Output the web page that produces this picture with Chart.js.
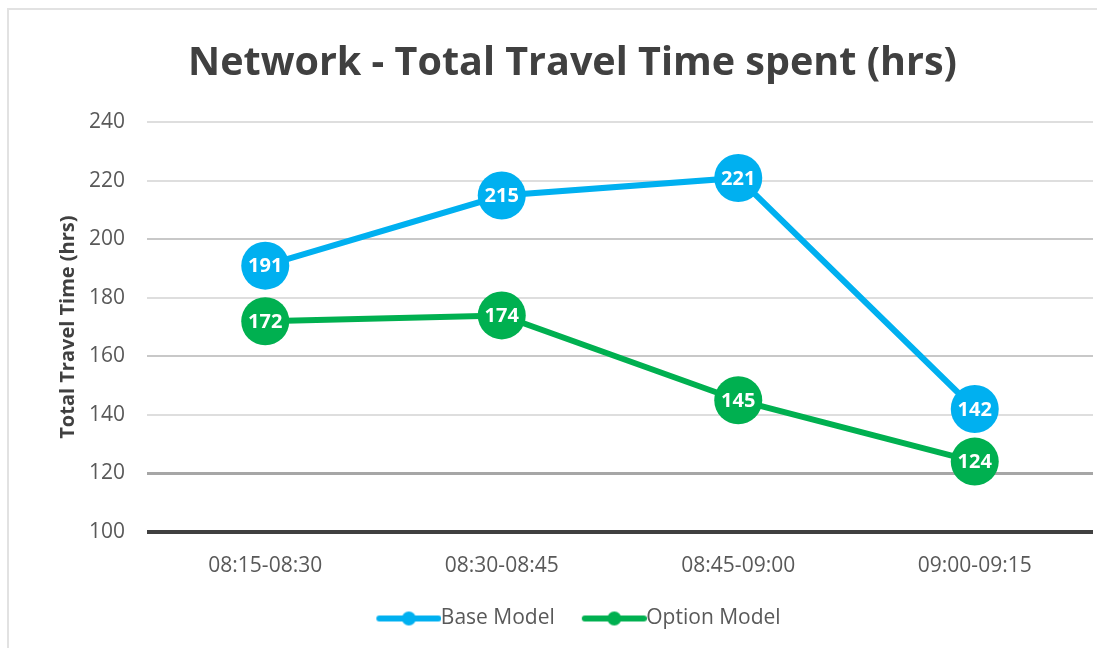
<!DOCTYPE html>
<html>
<head>
<meta charset="utf-8">
<script src="https://cdn.jsdelivr.net/npm/chart.js@4.4.0/dist/chart.umd.min.js"></script>
<style>
  html, body { margin: 0; padding: 0; background: #fff; overflow: hidden; }
  #card { position: absolute; left: 7px; top: 8px; width: 1088px; height: 638px;
          border-left: 2px solid #e2e2e2; border-top: 2px solid #e2e2e2; }
  #wrap { position: absolute; left: 0; top: 0; width: 1097px; height: 648px; }
</style>
</head>
<body>
<div id="card"></div>
<div id="wrap"><canvas id="ttChart"></canvas></div>
<script>
// data
const timeSlots = ["08:15-08:30", "08:30-08:45", "08:45-09:00", "09:00-09:15"];
const baseModel = [191, 215, 221, 142];
const optionModel = [172, 174, 145, 124];

const BLUE = "#00b0f0";
const GREEN = "#00b050";
const FONT = "'Open Sans', 'Noto Sans', sans-serif";

// line+dot image for the legend (left part left empty to space the items)
const MARK_W = 88, MARK_GAP = 23;
function legendMark(color) {
  const c = document.createElement("canvas");
  c.width = MARK_W; c.height = 16;
  const g = c.getContext("2d");
  g.strokeStyle = color;
  g.lineWidth = 6;
  g.lineCap = "round";
  g.beginPath(); g.moveTo(MARK_GAP + 3, 8); g.lineTo(MARK_W - 3, 8); g.stroke();
  g.fillStyle = color;
  g.beginPath(); g.arc((MARK_GAP + MARK_W) / 2, 8, 7, 0, Math.PI * 2); g.fill();
  return c;
}

// white value labels in the middle of the markers
const valueLabels = {
  id: "valueLabels",
  afterDatasetsDraw(chart) {
    const ctx = chart.ctx;
    ctx.save();
    ctx.fillStyle = "#fff";
    ctx.font = "bold 20px " + FONT;
    ctx.textAlign = "center";
    ctx.textBaseline = "middle";
    chart.data.datasets.forEach((ds, i) => {
      chart.getDatasetMeta(i).data.forEach((pt, j) => {
        ctx.fillText(ds.data[j], pt.x, pt.y + 1);
      });
    });
    ctx.restore();
  },
};

function gridColor(v) {
  if (v === 100) return "#404040";
  if (v === 120) return "#a6a6a6";
  if (v === 160 || v === 200) return "#c8c8c8";
  return "#dedede";
}
function gridWidth(v) {
  if (v === 100) return 4;
  if (v === 120) return 3;
  return 2;
}

const ctx = document.getElementById("ttChart").getContext("2d");
const chart = new Chart(ctx, {
  type: "line",
  data: {
    labels: timeSlots,
    datasets: [
      {
        label: "Base Model",
        data: baseModel,
        borderColor: BLUE,
        backgroundColor: BLUE,
        borderWidth: 6,
        pointRadius: 24,
        pointHoverRadius: 24,
        pointBorderWidth: 0,
      },
      {
        label: "Option Model",
        data: optionModel,
        borderColor: GREEN,
        backgroundColor: GREEN,
        borderWidth: 6,
        pointRadius: 24,
        pointHoverRadius: 24,
        pointBorderWidth: 0,
      },
    ],
  },
  options: {
    responsive: true,
    maintainAspectRatio: false,
    animation: false,
    layout: { autoPadding: false, padding: { left: 52, right: 4, top: 0, bottom: 9 } },
    plugins: {
      title: {
        display: true,
        text: "Network - Total Travel Time spent (hrs)",
        color: "#404040",
        font: { family: FONT, size: 39.5, weight: "bold" },
        padding: { top: 40, bottom: 35 },
      },
      legend: {
        position: "bottom",
        labels: {
          usePointStyle: true,
          pointStyleWidth: 66,
          color: "#595959",
          font: { family: FONT, size: 21 },
          padding: 15,
          generateLabels(chart) {
            const items = Chart.defaults.plugins.legend.labels.generateLabels(chart);
            items.forEach((it, i) => {
              it.pointStyle = legendMark(i === 0 ? BLUE : GREEN);
            });
            return items;
          },
        },
      },
      tooltip: { enabled: false },
    },
    scales: {
      y: {
        min: 100,
        max: 240,
        afterFit(scale) { scale.width = 95; },
        ticks: {
          stepSize: 20,
          color: "#595959",
          font: { family: FONT, size: 21 },
          padding: 22,
        },
        grid: {
          color: (c) => gridColor(c.tick.value),
          lineWidth: (c) => gridWidth(c.tick.value),
          drawTicks: false,
        },
        border: { display: false },
        title: {
          display: true,
          text: "Total Travel Time (hrs)",
          color: "#404040",
          font: { family: FONT, size: 20, weight: "bold" },
          padding: { bottom: 0 },
        },
      },
      x: {
        offset: true,
        grid: { display: false },
        border: { display: false },
        ticks: {
          color: "#595959",
          font: { family: FONT, size: 21 },
          padding: 14,
        },
      },
    },
  },
  plugins: [valueLabels],
});
</script>
</body>
</html>
